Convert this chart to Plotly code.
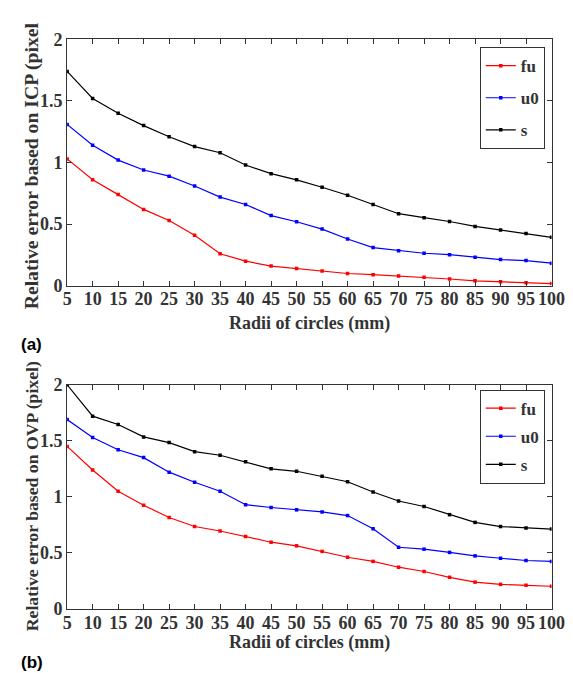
import plotly.graph_objects as go

radii = [5, 10, 15, 20, 25, 30, 35, 40, 45, 50, 55, 60, 65, 70, 75, 80, 85, 90, 95, 100]

# (a) Relative error based on ICP
icp_fu = [1.03, 0.86, 0.74, 0.62, 0.53, 0.41, 0.26, 0.20, 0.16, 0.14, 0.12, 0.10, 0.09, 0.08, 0.07, 0.055, 0.04, 0.032, 0.025, 0.018]
icp_u0 = [1.31, 1.14, 1.02, 0.94, 0.89, 0.81, 0.72, 0.66, 0.57, 0.52, 0.46, 0.38, 0.31, 0.285, 0.264, 0.253, 0.232, 0.213, 0.205, 0.184]
icp_s = [1.74, 1.52, 1.40, 1.30, 1.21, 1.13, 1.08, 0.98, 0.91, 0.86, 0.80, 0.735, 0.66, 0.585, 0.553, 0.522, 0.482, 0.453, 0.424, 0.393]

# (b) Relative error based on OVP
ovp_fu = [1.45, 1.24, 1.05, 0.925, 0.815, 0.735, 0.695, 0.645, 0.595, 0.563, 0.513, 0.461, 0.424, 0.372, 0.334, 0.282, 0.239, 0.219, 0.210, 0.202]
ovp_u0 = [1.69, 1.53, 1.42, 1.35, 1.22, 1.13, 1.05, 0.93, 0.905, 0.884, 0.865, 0.833, 0.715, 0.55, 0.533, 0.504, 0.473, 0.452, 0.432, 0.424]
ovp_s = [2.0, 1.72, 1.645, 1.535, 1.484, 1.403, 1.371, 1.313, 1.25, 1.228, 1.184, 1.135, 1.043, 0.963, 0.914, 0.841, 0.772, 0.735, 0.723, 0.712]

series_names = ["fu", "u0", "s"]
colors = ["#ff0000", "#0000ff", "#000000"]

x_ticks = radii
y_ticks = [0, 0.5, 1, 1.5, 2]
y_tick_text = ["0", "0.5", "1", "1.5", "2"]

W, H = 573, 673
SERIF = "Liberation Serif"
TXT = "#333333"

fig = go.Figure()

panels = [
    ("x", "y", "legend", [icp_fu, icp_u0, icp_s]),
    ("x2", "y2", "legend2", [ovp_fu, ovp_u0, ovp_s]),
]
for xa, ya, lg, data in panels:
    for name, col, vals in zip(series_names, colors, data):
        fig.add_trace(go.Scatter(
            x=radii, y=vals, name=f"<b>{name}</b>", mode="lines+markers",
            line=dict(color=col, width=1.2),
            marker=dict(color=col, size=3.5, symbol="square"),
            xaxis=xa, yaxis=ya, legend=lg, legendgroup=lg + name,
        ))


def px_x(p):
    return p / W


def px_y(p):
    return 1 - p / H


tickfont = dict(family=SERIF, size=18, color=TXT)
axis_common = dict(
    showgrid=False, zeroline=False, showline=True, linecolor=TXT, linewidth=1,
    mirror="ticks", ticks="inside", ticklen=5, tickwidth=1, tickcolor=TXT,
    tickfont=tickfont,
)
x_tt = [f"<b>{v}</b>" for v in x_ticks]
y_tt = [f"<b>{t}</b>" for t in y_tick_text]

legend_common = dict(
    xanchor="right", yanchor="top",
    bordercolor=TXT, borderwidth=1, bgcolor="white",
    font=dict(family=SERIF, size=17, color=TXT),
    traceorder="grouped",
)

fig.update_layout(
    width=W, height=H,
    margin=dict(l=0, r=0, t=0, b=0),
    paper_bgcolor="white", plot_bgcolor="white",
    font=dict(family=SERIF),
    showlegend=True,
    xaxis=dict(domain=[px_x(56), px_x(557)], range=[5, 100], tickvals=x_ticks, ticktext=x_tt,
               anchor="y", ticklabelstandoff=-3, **axis_common),
    yaxis=dict(domain=[px_y(276), px_y(22)], range=[0, 2], tickvals=y_ticks,
               ticktext=y_tt, anchor="x", **axis_common),
    xaxis2=dict(domain=[px_x(56), px_x(557)], range=[5, 100], tickvals=x_ticks, ticktext=x_tt,
                anchor="y2", ticklabelstandoff=-3, **axis_common),
    yaxis2=dict(domain=[px_y(609), px_y(378)], range=[0, 2], tickvals=y_ticks,
                ticktext=y_tt, anchor="x2", **axis_common),
    legend=dict(x=px_x(550), y=px_y(30), tracegroupgap=7, **legend_common),
    legend2=dict(x=px_x(550), y=px_y(383), tracegroupgap=3, **legend_common),
)

ann = [
    dict(text="<b>Relative error based on ICP (pixel</b>", x=px_x(20), y=px_y(152.5),
         textangle=-90, font=dict(family=SERIF, size=19.7, color=TXT)),
    dict(text="<b>Radii of circles (mm)</b>", x=px_x(306.5), y=px_y(315),
         font=dict(family=SERIF, size=18, color=TXT)),
    dict(text="<b>Relative error based on OVP (pixel)</b>", x=px_x(20.5), y=px_y(493),
         textangle=-90, font=dict(family=SERIF, size=17.7, color=TXT)),
    dict(text="<b>Radii of circles (mm)</b>", x=px_x(306.5), y=px_y(644),
         font=dict(family=SERIF, size=18, color=TXT)),
    dict(text="<b>(a)</b>", x=px_x(6), y=px_y(336), xanchor="left",
         font=dict(family="Liberation Sans", size=17, color="black")),
    dict(text="<b>(b)</b>", x=px_x(6), y=px_y(664), xanchor="left",
         font=dict(family="Liberation Sans", size=17, color="black")),
]
for a in ann:
    a.setdefault("xanchor", "center")
    fig.add_annotation(xref="paper", yref="paper", yanchor="middle", showarrow=False, **a)

fig.write_html("out.html")
